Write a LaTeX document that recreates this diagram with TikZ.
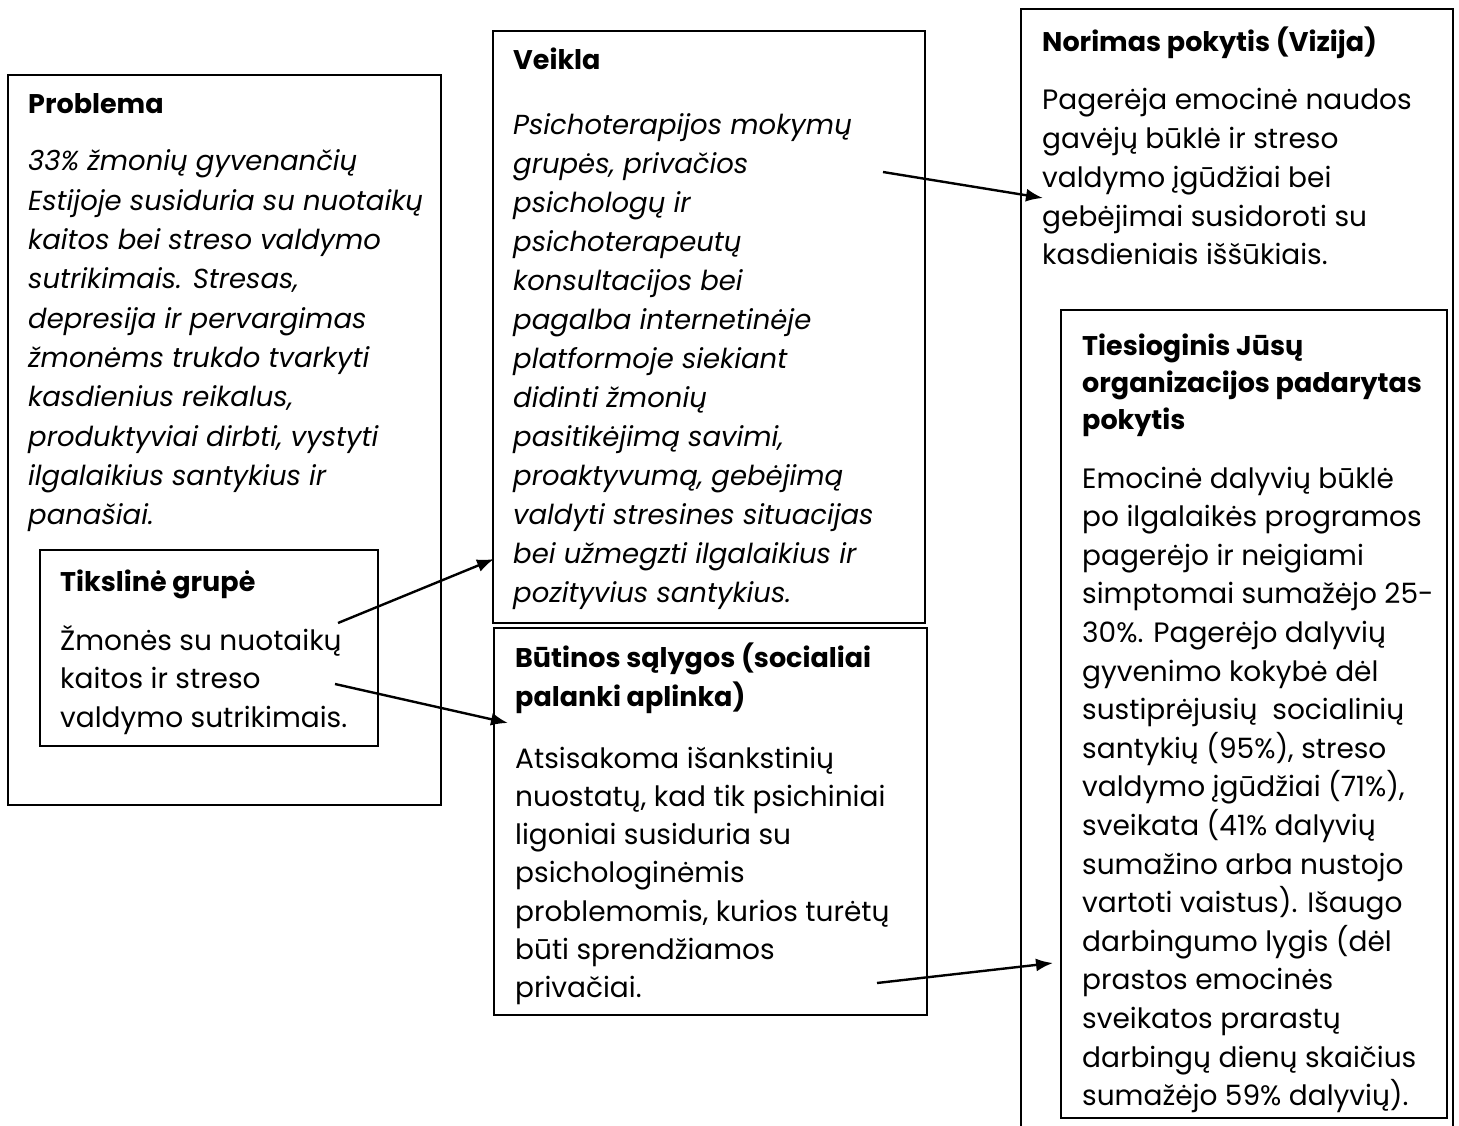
\documentclass[tikz,border=0pt]{standalone}
\usepackage{fontspec}
\setmainfont{Poppins}
\usetikzlibrary{arrows.meta}
\newcommand{\regsize}{\fontsize{28}{39}\selectfont}
\newcommand{\itsize}{\fontsize{27.5}{39}\selectfont}
\newcommand{\bfsize}{\fontsize{27}{39}\selectfont}
\begin{document}
\begin{tikzpicture}[x=1pt,y=-1pt,
  box/.style={draw, line width=1.3pt},
  ttl/.style={anchor=base west, inner sep=0, font=\bfsize\bfseries},
  txt/.style={anchor=base west, inner sep=0, font=\regsize},
  itx/.style={anchor=base west, inner sep=0, font=\itsize\itshape},
  conn/.style={line width=2.4pt, -{Latex[length=17pt,width=13pt]}}]
\useasboundingbox (0,0) rectangle (1459,1126);
% boxes
\draw[box] (8,75) rectangle (441,805) coordinate (probbox);
\draw[box] (40,550) rectangle (378,746) coordinate (tikbox);
\draw[box] (493,31) rectangle (925,623) coordinate (veibox);
\draw[box] (494,628) rectangle (927,1015) coordinate (butbox);
\draw[box] (1021,9) rectangle (1453,1160) coordinate (norbox);
\draw[box] (1061,310) rectangle (1447,1118) coordinate (tiebox);
% Problema
\node[ttl] (probt) at (28,114) {Problema};
\node[itx] (probx) at (28,171) {\parbox[t]{600pt}{\baselineskip=39.3pt
33\% žmonių gyvenančių\\
Estijoje susiduria su nuotaikų\\
kaitos bei streso valdymo\\
sutrikimais. Stresas,\\
depresija ir pervargimas\\
žmonėms trukdo tvarkyti\\
kasdienius reikalus,\\
produktyviai dirbti, vystyti\\
ilgalaikius santykius ir\\
panašiai.}};
% Tikslinė grupė
\node[ttl] (tikt) at (60,591) {Tikslinė grupė};
\node[txt] (tikx) at (60,650) {\parbox[t]{600pt}{\baselineskip=38.5pt
Žmonės su nuotaikų\\
kaitos ir streso\\
valdymo sutrikimais.}};
% Veikla
\node[ttl] (veit) at (513,70) {Veikla};
\node[itx] (veix) at (513,135) {\parbox[t]{600pt}{\baselineskip=39pt
Psichoterapijos mokymų\\
grupės, privačios\\
psichologų ir\\
psichoterapeutų\\
konsultacijos bei\\
pagalba internetinėje\\
platformoje siekiant\\
didinti žmonių\\
pasitikėjimą savimi,\\
proaktyvumą, gebėjimą\\
valdyti stresines situacijas\\
bei užmegzti ilgalaikius ir\\
pozityvius santykius.}};
% Būtinos sąlygos
\node[ttl] (butt) at (515,667) {\parbox[t]{600pt}{\baselineskip=39pt
Būtinos sąlygos (socialiai\\
palanki aplinka)}};
\node[txt] (butx) at (515,768) {\parbox[t]{600pt}{\baselineskip=38.3pt
Atsisakoma išankstinių\\
nuostatų, kad tik psichiniai\\
ligoniai susiduria su\\
psichologinėmis\\
problemomis, kurios turėtų\\
būti sprendžiamos\\
privačiai.}};
% Norimas pokytis
\node[ttl] (nort) at (1042,52) {Norimas pokytis (Vizija)};
\node[txt] (norx) at (1042,110) {\parbox[t]{600pt}{\baselineskip=38.75pt
Pagerėja emocinė naudos\\
gavėjų būklė ir streso\\
valdymo įgūdžiai bei\\
gebėjimai susidoroti su\\
kasdieniais iššūkiais.}};
% Tiesioginis
\node[ttl] (tiet) at (1082,355) {\parbox[t]{600pt}{\baselineskip=37pt
Tiesioginis Jūsų\\
organizacijos padarytas\\
pokytis}};
\node[txt] (tiex) at (1082,488) {\parbox[t]{600pt}{\baselineskip=38.6pt
Emocinė dalyvių būklė\\
po ilgalaikės programos\\
pagerėjo ir neigiami\\
simptomai sumažėjo 25-\\
30\%. Pagerėjo dalyvių\\
gyvenimo kokybė dėl\\
sustiprėjusių\ \ socialinių\\
santykių (95\%), streso\\
valdymo įgūdžiai (71\%),\\
sveikata (41\% dalyvių\\
sumažino arba nustojo\\
vartoti vaistus). Išaugo\\
darbingumo lygis (dėl\\
prastos emocinės\\
sveikatos prarastų\\
darbingų dienų skaičius\\
sumažėjo 59\% dalyvių).}};
% connector end points
\coordinate (a1s) at (883,172);
\coordinate (a1e) at (1043,198);
\coordinate (a2s) at (338,623);
\coordinate (a2e) at (494,559);
\coordinate (a3s) at (335,684);
\coordinate (a3e) at (508,723);
\coordinate (a4s) at (877,983);
\coordinate (a4e) at (1053,963);
\draw[conn] (a1s) -- (a1e);
\draw[conn] (a2s) -- (a2e);
\draw[conn] (a3s) -- (a3e);
\draw[conn] (a4s) -- (a4e);
\end{tikzpicture}
\end{document}
